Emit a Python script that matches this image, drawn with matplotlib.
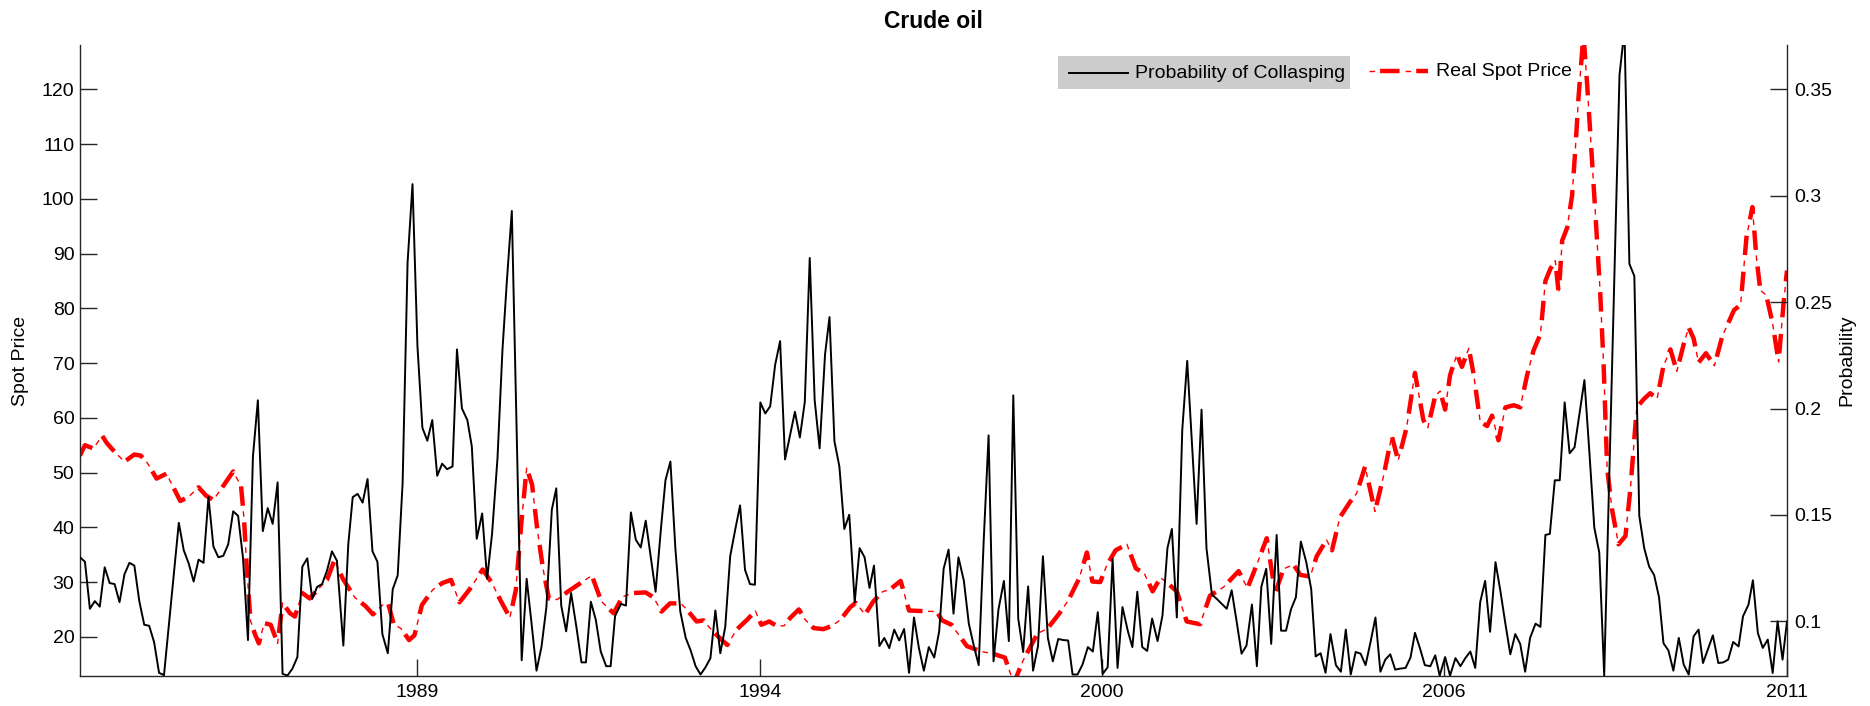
import matplotlib
matplotlib.use('Agg')
import matplotlib.pyplot as plt
from matplotlib.lines import Line2D
from matplotlib.patches import Rectangle

plt.rcParams['font.family'] = ['Liberation Sans', 'DejaVu Sans']
plt.rcParams['lines.scale_dashes'] = False

# ---------------- data ----------------
# time axis: observation index (monthly), 0 .. 345.5
tick_pos = [68.2, 137.6, 206.9, 276.1, 345.5]
tick_labels = ['1989', '1994', '2000', '2006', '2011']
price_ticks = [20, 30, 40, 50, 60, 70, 80, 90, 100, 110, 120]
prob_ticks = [0.1, 0.15, 0.2, 0.25, 0.3, 0.35]
prob_tick_labels = ['0.1', '0.15', '0.2', '0.25', '0.3', '0.35']

# Probability of collapsing (right axis)
prob_t = [0, 1, 2, 3, 4, 5, 6, 7, 8, 9, 10, 11, 12, 13, 14, 15, 16, 17, 20, 21,
          22, 23, 24, 25, 26, 27, 28, 29, 30, 31, 32, 33, 34, 35, 36, 37, 38, 39, 40, 41,
          42, 43, 44, 45, 46, 47, 48, 49, 50, 51, 52, 53.3, 54.3, 55.2, 56.2, 57.2, 58.2, 59.2, 60.2, 61.2,
          62.3, 63.3, 64.3, 65.3, 66.3, 67.3, 68.3, 69.3, 70.3, 71.3, 72.3, 73.3, 74.3, 75.4, 76.3, 77.3, 78.4, 79.3, 80.3, 81.4,
          82.4, 83.4, 84.5, 85.5, 86.4, 87.4, 89.4, 90.4, 91.4, 92.4, 93.4, 94.4, 95.5, 96.4, 97.4, 98.4, 99.4, 100.5, 101.5, 102.4,
          103.4, 104.4, 105.4, 106.5, 107.4, 108.3, 109.5, 110.5, 111.5, 112.5, 113.5, 114.5, 115.5, 116.5, 117.6, 118.5, 119.5, 120.5, 121.5, 122.6,
          123.6, 124.6, 125.6, 126.6, 127.6, 128.6, 129.6, 130.6, 131.6, 132.6, 133.6, 134.6, 135.6, 136.6, 137.7, 138.7, 139.7, 140.7, 141.7, 142.7,
          143.7, 144.7, 145.7, 146.7, 147.7, 148.7, 149.7, 150.8, 151.7, 152.7, 153.7, 154.7, 155.7, 156.8, 157.8, 158.8, 159.8, 160.7, 161.8, 162.8,
          163.8, 164.8, 165.8, 166.8, 167.8, 168.8, 169.8, 170.8, 171.8, 172.9, 173.9, 174.8, 175.8, 176.8, 177.8, 178.9, 179.9, 180.9, 181.9, 182.9,
          183.9, 184.9, 185.9, 187.0, 188.0, 188.9, 189.9, 190.9, 191.9, 192.9, 193.9, 194.9, 195.9, 196.9, 198.0, 199.0, 200.0, 200.9, 201.9, 202.9,
          204.0, 205.0, 206.0, 207.0, 208.0, 209.0, 210.0, 211.0, 212.1, 213.0, 214.0, 215.0, 216.0, 217.0, 218.1, 219.1, 220.1, 221.0, 222.0, 223.1,
          224.1, 226.0, 227.0, 228.0, 229.1, 230.1, 231.1, 232.1, 233.1, 234.1, 235.1, 236.1, 237.2, 238.2, 239.1, 240.1, 241.1, 242.2, 243.1, 244.1,
          245.1, 246.1, 247.1, 248.2, 249.2, 250.1, 251.1, 252.1, 253.1, 254.2, 255.2, 256.2, 257.2, 258.2, 259.2, 260.2, 261.2, 262.2, 263.2, 264.2,
          265.2, 266.2, 267.3, 268.3, 269.3, 270.2, 271.2, 272.2, 273.3, 274.3, 275.2, 276.3, 277.3, 278.4, 279.4, 280.4, 281.4, 282.4, 283.4, 284.4,
          285.4, 286.5, 287.5, 288.5, 289.5, 290.5, 291.5, 292.5, 293.5, 294.6, 295.6, 296.6, 297.5, 298.5, 299.5, 300.5, 301.5, 302.5, 303.5, 304.5,
          305.5, 306.5, 307.5, 308.5, 311.6, 312.6, 313.6, 314.6, 315.6, 316.6, 317.6, 318.6, 319.6, 320.5, 321.5, 322.5, 323.6, 324.6, 325.6, 326.6,
          327.6, 328.5, 329.6, 330.5, 331.6, 332.6, 333.6, 334.6, 335.7, 336.6, 337.7, 338.6, 339.6, 340.6, 341.6, 342.6, 343.6, 344.6, 345.5]
prob_v = [0.1301, 0.1280, 0.1059, 0.1095, 0.1069, 0.1254, 0.1180, 0.1175, 0.1090, 0.1221, 0.1275, 0.1262, 0.1095, 0.0984, 0.0979, 0.0902, 0.0758, 0.0747, 0.1463, 0.1334,
          0.1272, 0.1187, 0.1290, 0.1275, 0.1584, 0.1352, 0.1301, 0.1308, 0.1362, 0.1517, 0.1496, 0.1296, 0.0912, 0.1774, 0.2039, 0.1424, 0.1532, 0.1458, 0.1653, 0.0753,
          0.0745, 0.0778, 0.0832, 0.1257, 0.1296, 0.1105, 0.1162, 0.1175, 0.1239, 0.1329, 0.1285, 0.0886, 0.1362, 0.1584, 0.1599, 0.1558, 0.1669, 0.1329, 0.1280, 0.0940,
          0.0850, 0.1151, 0.1216, 0.1651, 0.2685, 0.3055, 0.2294, 0.1910, 0.1849, 0.1946, 0.1684, 0.1741, 0.1715, 0.1728, 0.2278, 0.2001, 0.1946, 0.1823, 0.1388, 0.1507,
          0.1200, 0.1411, 0.1766, 0.2273, 0.2600, 0.2929, 0.0817, 0.1200, 0.0989, 0.0768, 0.0879, 0.1067, 0.1525, 0.1625, 0.1074, 0.0953, 0.1133, 0.0969, 0.0807, 0.0807,
          0.1092, 0.1007, 0.0858, 0.0789, 0.0789, 0.1025, 0.1082, 0.1074, 0.1512, 0.1383, 0.1347, 0.1473, 0.1306, 0.1139, 0.1440, 0.1663, 0.1751, 0.1344, 0.1046, 0.0922,
          0.0863, 0.0789, 0.0750, 0.0784, 0.0827, 0.1051, 0.0850, 0.0974, 0.1306, 0.1429, 0.1545, 0.1242, 0.1175, 0.1172, 0.2029, 0.1977, 0.2011, 0.2206, 0.2317, 0.1761,
          0.1874, 0.1985, 0.1864, 0.2031, 0.2708, 0.2039, 0.1813, 0.2255, 0.2430, 0.1846, 0.1728, 0.1434, 0.1501, 0.1090, 0.1344, 0.1301, 0.1157, 0.1262, 0.0884, 0.0922,
          0.0874, 0.0961, 0.0910, 0.0964, 0.0758, 0.1018, 0.0874, 0.0768, 0.0879, 0.0830, 0.0953, 0.1247, 0.1337, 0.1036, 0.1301, 0.1190, 0.0989, 0.0886, 0.0794, 0.1373,
          0.1874, 0.0812, 0.1056, 0.1190, 0.0907, 0.2062, 0.1013, 0.0856, 0.1164, 0.0768, 0.0884, 0.1306, 0.0922, 0.0812, 0.0917, 0.0912, 0.0910, 0.0750, 0.0750, 0.0796,
          0.0879, 0.0858, 0.1043, 0.0753, 0.0784, 0.1293, 0.0781, 0.1067, 0.0953, 0.0879, 0.1139, 0.0879, 0.0861, 0.1013, 0.0907, 0.1028, 0.1344, 0.1434, 0.1018, 0.1900,
          0.2224, 0.1458, 0.1995, 0.1344, 0.1126, 0.1105, 0.1082, 0.1059, 0.1146, 0.1000, 0.0848, 0.0886, 0.1079, 0.0789, 0.1162, 0.1247, 0.0894, 0.1406, 0.0956, 0.0956,
          0.1056, 0.1113, 0.1375, 0.1278, 0.1151, 0.0835, 0.0850, 0.0758, 0.0940, 0.0794, 0.0763, 0.0961, 0.0750, 0.0856, 0.0848, 0.0794, 0.0902, 0.1018, 0.0763, 0.0820,
          0.0845, 0.0773, 0.0778, 0.0781, 0.0830, 0.0946, 0.0874, 0.0794, 0.0789, 0.0840, 0.0745, 0.0832, 0.0745, 0.0827, 0.0789, 0.0827, 0.0858, 0.0781, 0.1090, 0.1190,
          0.0951, 0.1278, 0.1141, 0.0989, 0.0845, 0.0940, 0.0894, 0.0763, 0.0922, 0.0989, 0.0974, 0.1406, 0.1411, 0.1663, 0.1663, 0.2029, 0.1790, 0.1818, 0.1977, 0.2134,
          0.1795, 0.1440, 0.1324, 0.0745, 0.3568, 0.3780, 0.2680, 0.2623, 0.1496, 0.1344, 0.1257, 0.1218, 0.1113, 0.0897, 0.0863, 0.0768, 0.0922, 0.0796, 0.0750, 0.0930,
          0.0961, 0.0804, 0.0875, 0.0934, 0.0804, 0.0807, 0.0820, 0.0903, 0.0882, 0.1024, 0.1078, 0.1193, 0.0945, 0.0875, 0.0914, 0.0757, 0.1000, 0.0820, 0.1000]

# Real spot price (left axis)
price_t = [0, 1.0, 2.7, 4.5, 5.5, 7.2, 9.0, 11.0, 12.3, 13.6, 15.5, 17.5, 20.3, 22.0, 24.0, 25.5, 27.0, 28.8, 31.0, 32.6,
           33.2, 33.8, 34.5, 35.4, 36.2, 37.3, 38.6, 40.0, 41.0, 42.5, 43.5, 45.0, 46.5, 48.0, 50.0, 51.5, 53.2, 55.6, 57.8, 59.3,
           61.2, 62.4, 63.5, 65.0, 66.6, 67.7, 69.2, 71.4, 73.3, 75.1, 76.8, 78.8, 81.5, 83.4, 85.2, 87.0, 88.2, 89.3, 90.4, 91.5,
           92.5, 93.7, 94.9, 96.6, 98.8, 101.3, 103.6, 105.5, 108.0, 109.8, 112.0, 114.5, 116.1, 117.7, 119.4, 121.6, 122.8, 124.8, 126.2, 127.5,
           129.0, 131.0, 132.9, 135.0, 136.7, 137.9, 139.5, 141.0, 142.5, 143.8, 145.5, 146.8, 148.5, 150.5, 152.2, 153.9, 155.9, 157.0, 158.9, 160.6,
           162.4, 164.0, 166.1, 167.8, 170.4, 173.4, 174.5, 176.4, 179.5, 182.5, 184.8, 187.2, 189.0, 190.9, 193.8, 195.8, 198.0, 200.0, 202.2, 203.8,
           204.9, 206.5, 207.8, 209.6, 211.9, 213.7, 215.4, 217.1, 218.7, 220.5, 222.0, 224.0, 226.7, 228.7, 231.5, 234.5, 236.3, 238.1, 240.2, 241.9,
           243.6, 245.6, 247.0, 249.0, 250.3, 252.3, 253.4, 255.0, 257.1, 258.4, 260.1, 262.1, 263.8, 265.5, 266.8, 268.5, 270.2, 271.9, 272.8, 274.3,
           275.3, 276.3, 277.3, 278.7, 279.7, 281.1, 282.1, 283.4, 284.8, 285.8, 287.1, 288.5, 290.2, 291.5, 292.9, 294.2, 295.6, 296.6, 297.6, 298.6,
           299.3, 300.0, 301.0, 302.0, 302.7, 303.3, 304.3, 305.0, 305.7, 306.7, 307.7, 308.4, 309.1, 310.1, 311.4, 312.8, 313.8, 315.1, 316.5, 317.8,
           319.2, 320.5, 321.9, 323.2, 324.6, 325.6, 326.6, 327.6, 329.1, 330.8, 332.4, 334.8, 336.1, 337.3, 338.5, 339.3, 340.1, 341.3, 342.6, 343.8,
           344.8, 345.5]
price_v = [53.1, 55.0, 54.4, 56.7, 55.3, 53.6, 52.0, 53.3, 53.1, 51.8, 48.9, 49.8, 44.8, 45.6, 47.3, 45.8, 45.0, 47.3, 50.2, 47.5,
           41.5, 32.0, 23.0, 20.5, 18.8, 22.5, 22.2, 18.8, 26.2, 24.3, 23.7, 28.0, 27.0, 28.5, 30.4, 34.0, 30.6, 27.2, 25.6, 24.1,
           25.8, 26.0, 22.3, 21.5, 19.4, 20.3, 25.8, 28.6, 29.8, 30.4, 26.3, 28.6, 32.3, 29.8, 26.5, 23.5, 28.5, 40.5, 50.8, 47.8,
           40.0, 32.5, 27.0, 26.8, 28.3, 29.8, 31.2, 26.5, 24.3, 27.3, 28.0, 28.1, 27.2, 24.6, 26.1, 26.1, 25.0, 22.8, 23.0, 21.6,
           20.2, 18.5, 21.3, 23.1, 24.7, 22.2, 22.8, 22.0, 22.0, 23.5, 25.0, 23.1, 21.6, 21.4, 22.0, 23.1, 25.4, 26.2, 24.1, 26.5,
           28.2, 28.7, 30.2, 24.8, 24.7, 24.6, 23.0, 22.2, 18.3, 17.3, 16.9, 16.2, 11.5, 15.7, 20.6, 21.5, 24.0, 26.6, 30.6, 35.4,
           30.1, 30.0, 33.0, 35.8, 36.9, 32.5, 31.6, 28.3, 30.8, 29.5, 28.3, 22.8, 22.3, 27.5, 29.1, 32.0, 28.9, 33.0, 38.0, 28.0,
           32.4, 33.2, 31.3, 31.0, 34.7, 37.7, 35.8, 41.8, 44.7, 46.2, 51.1, 42.9, 49.2, 56.7, 52.2, 58.2, 68.2, 59.6, 58.2, 64.0,
           64.9, 61.5, 67.8, 71.6, 69.3, 72.7, 67.8, 59.3, 58.5, 60.4, 55.9, 61.9, 62.3, 61.9, 67.8, 72.3, 75.3, 85.0, 87.2, 88.7,
           82.7, 92.4, 94.7, 100.6, 109.6, 118.5, 130.0, 121.5, 111.8, 97.6, 82.7, 69.3, 50.7, 43.2, 36.9, 38.4, 47.0, 61.9, 63.4, 64.5,
           63.5, 69.5, 72.5, 68.5, 73.5, 76.5, 74.5, 70.1, 71.8, 69.5, 74.9, 79.7, 80.6, 93.0, 98.5, 89.4, 83.3, 82.4, 77.2, 70.2,
           80.9, 86.9]

# ---------------- figure ----------------
W, H = 1870, 706
fig = plt.figure(figsize=(W / 100, H / 100), dpi=100)
L, R, B, T = 80, 1787, 676, 45
ax = fig.add_axes([L / W, 1 - B / H, (R - L) / W, (B - T) / H])
ax2 = ax.twinx()

red = '#ff0000'
thick_ls = (0, (14, 12))
thin_ls = (8, (4, 22))
ax.plot(price_t, price_v, color=red, lw=3.2, linestyle=thick_ls, dash_capstyle='butt')
ax.plot(price_t, price_v, color=red, lw=1.0, linestyle=thin_ls, dash_capstyle='butt')
ax2.plot(prob_t, prob_v, color='black', lw=1.4)

ax.set_xlim(0, 345.5)
ax.set_ylim(12.84, 128.1)
ax2.set_ylim(0.0743, 0.3709)

ax.set_xticks(tick_pos)
ax.set_xticklabels(tick_labels)
ax.set_yticks(price_ticks)
ax.set_yticklabels([str(v) for v in price_ticks])
ax2.set_yticks(prob_ticks)
ax2.set_yticklabels(prob_tick_labels)

axc = '#262626'
for a in (ax, ax2):
    a.spines['top'].set_visible(False)
    for s in a.spines.values():
        s.set_color(axc)
        s.set_linewidth(1.0)
ax.spines['right'].set_visible(False)
ax2.spines['left'].set_visible(False)
ax2.spines['bottom'].set_visible(False)

ax.tick_params(axis='both', direction='in', length=12, width=1, colors=axc,
               labelcolor='black', labelsize=14, pad=4)
ax.tick_params(axis='x', pad=6)
ax2.tick_params(axis='y', direction='in', length=12, width=1, colors=axc,
                labelcolor='black', labelsize=14, pad=5)

ax.set_ylabel('Spot Price', fontsize=14)
ax.yaxis.set_label_coords(-0.0296, 0.5)
ax2.set_ylabel('Probability', fontsize=14)
ax2.yaxis.set_label_coords(1.030, 0.5)

fig.text(((L + R) / 2) / W, 1 - 21 / H, 'Crude oil', ha='center', va='center',
         fontsize=16.5, fontweight='bold')

# ---------------- legend ----------------
fig.add_artist(Rectangle((1057.6 / W, 1 - 89 / H), 292.1 / W, 33 / H,
                         transform=fig.transFigure, facecolor='#cccccc', edgecolor='none'))
fig.add_artist(Line2D([1069 / W, 1128 / W], [1 - 72.5 / H] * 2, transform=fig.transFigure,
                      color='black', lw=1.4))
fig.text(1135 / W, 1 - 73 / H, 'Probability of Collasping', va='center', ha='left', fontsize=14)
fig.add_artist(Line2D([1369 / W, 1428 / W], [1 - 71 / H] * 2, transform=fig.transFigure,
                      color=red, lw=3.2, linestyle=(18, (14, 12)), dash_capstyle='butt'))
fig.add_artist(Line2D([1369 / W, 1428 / W], [1 - 71 / H] * 2, transform=fig.transFigure,
                      color=red, lw=1.0, linestyle=(0, (4, 22)), dash_capstyle='butt'))
fig.text(1435.7 / W, 1 - 71 / H, 'Real Spot Price', va='center', ha='left', fontsize=14)

fig.savefig('out.png', dpi=100)
